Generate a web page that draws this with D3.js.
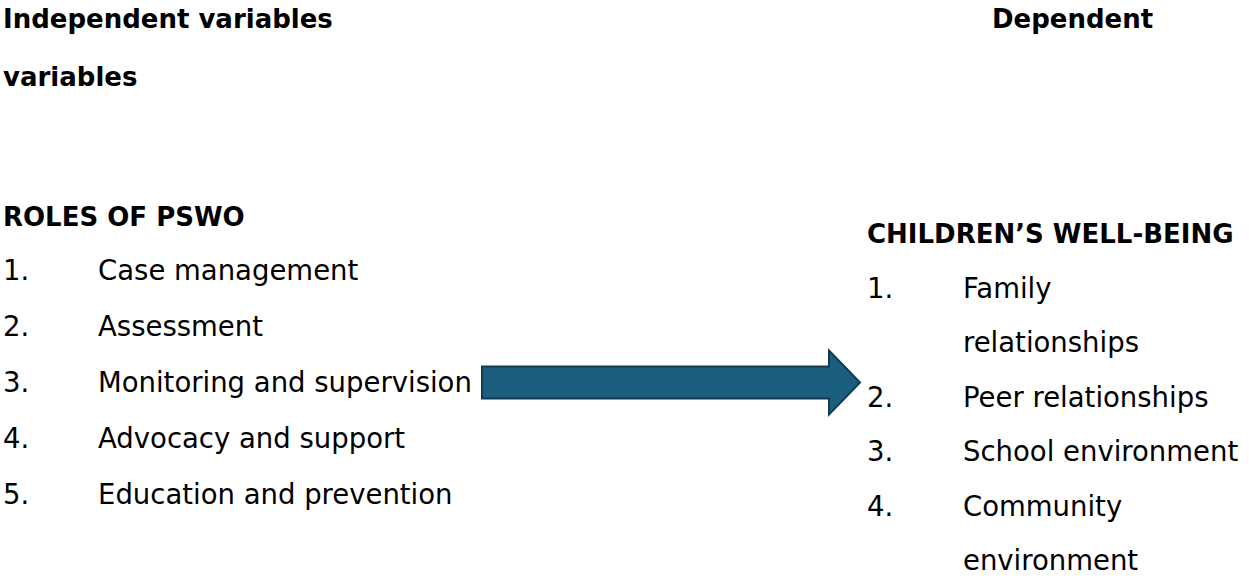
<!DOCTYPE html>
<html>
<head>
<meta charset="utf-8">
<script src="https://cdn.jsdelivr.net/npm/d3@7/dist/d3.min.js"></script>
<style>
  html, body { margin: 0; padding: 0; background: #ffffff; }
  svg { display: block; }
  text { font-family: "DejaVu Sans", sans-serif; fill: #000; }
</style>
</head>
<body>
<svg id="chart" width="1249" height="582"></svg>
<script>
// ---- content ----
const headerLeft = ["Independent variables", "variables"];
const headerRight = ["Dependent"];
const leftTitle = "ROLES OF PSWO";
const leftNumbers = ["1.", "2.", "3.", "4.", "5."];
const leftItems = ["Case management", "Assessment", "Monitoring and supervision", "Advocacy and support", "Education and prevention"];
const rightTitle = "CHILDREN\u2019S WELL-BEING";
const rightNumbers = ["1.", "2.", "3.", "4."];
const rightItems = [["Family", "relationships"], ["Peer relationships"], ["School environment"], ["Community", "environment"]];

// ---- layout ----
const W = 1249, H = 582;
const svg = d3.select("#chart");
const FS = 27.5, FSB = 26;

// line scales (index -> baseline)
const headerY = d3.scaleLinear().domain([0, 1]).range([28, 86]);
const leftY = d3.scaleLinear().domain([0, 1]).range([280, 336]);
const rightY = d3.scaleLinear().domain([0, 1]).range([298, 352.4]);

// Header
svg.selectAll("text.hl").data(headerLeft).join("text")
  .attr("class", "hl")
  .attr("x", 3).attr("y", (d, i) => headerY(i))
  .attr("font-size", FSB).attr("font-weight", "bold")
  .text(d => d);
svg.selectAll("text.hr").data(headerRight).join("text")
  .attr("class", "hr")
  .attr("x", 992).attr("y", (d, i) => headerY(i))
  .attr("font-size", FSB).attr("font-weight", "bold")
  .text(d => d);

// Left column
const leftNumX = 3, leftTextX = 98;
svg.append("text").attr("x", leftNumX).attr("y", 226)
  .attr("font-size", FSB).attr("font-weight", "bold").text(leftTitle);
const lg = svg.append("g");
lg.selectAll("text.ln").data(leftNumbers).join("text")
  .attr("class", "ln").attr("x", leftNumX).attr("y", (d, i) => leftY(i))
  .attr("font-size", FS).text(d => d);
lg.selectAll("text.lt").data(leftItems).join("text")
  .attr("class", "lt").attr("x", leftTextX).attr("y", (d, i) => leftY(i))
  .attr("font-size", FS).text(d => d);

// Right column
const rightNumX = 867, rightTextX = 963;
svg.append("text").attr("x", rightNumX).attr("y", 243)
  .attr("font-size", FSB).attr("font-weight", "bold").text(rightTitle);
let lineIdx = 0;
const rightLines = [];
rightItems.forEach((lines, i) => {
  lines.forEach((t, j) => {
    rightLines.push({ num: j === 0 ? rightNumbers[i] : null, text: t, line: lineIdx++ });
  });
});
const rg = svg.append("g");
rg.selectAll("text.rn").data(rightLines.filter(d => d.num)).join("text")
  .attr("class", "rn").attr("x", rightNumX).attr("y", d => rightY(d.line))
  .attr("font-size", FS).text(d => d.num);
rg.selectAll("text.rt").data(rightLines).join("text")
  .attr("class", "rt").attr("x", rightTextX).attr("y", d => rightY(d.line))
  .attr("font-size", FS).text(d => d.text);

// Arrow
const ax0 = 482, ax1 = 860, headLen = 31, cy = 382.5, bodyH = 16, headH = 32;
const arrowPts = [
  [ax0, cy - bodyH], [ax1 - headLen, cy - bodyH], [ax1 - headLen, cy - headH],
  [ax1, cy], [ax1 - headLen, cy + headH], [ax1 - headLen, cy + bodyH], [ax0, cy + bodyH]
];
svg.append("path")
  .attr("d", d3.line()(arrowPts) + "Z")
  .attr("fill", "#1b5e80")
  .attr("stroke", "#0f3b52")
  .attr("stroke-width", 2)
  .attr("stroke-linejoin", "miter");
</script>
</body>
</html>
